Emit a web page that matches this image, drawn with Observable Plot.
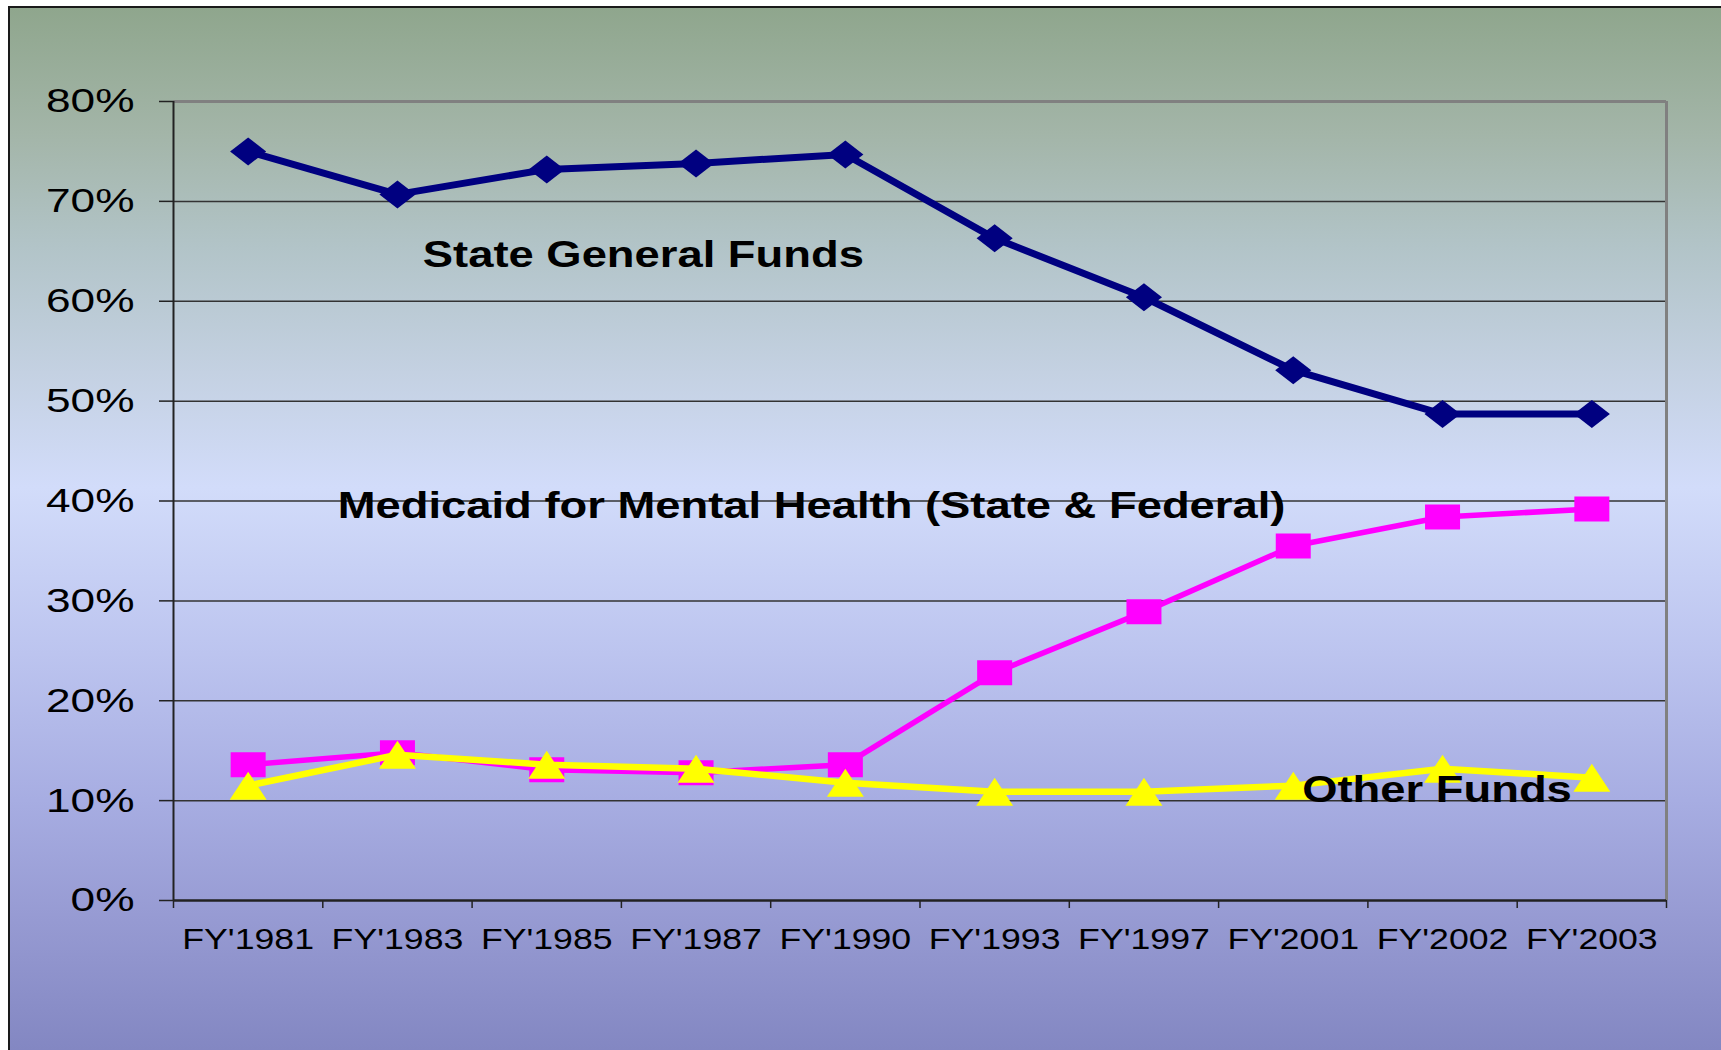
<!DOCTYPE html>
<html>
<head>
<meta charset="utf-8">
<script src="https://cdn.jsdelivr.net/npm/d3@7"></script>
<script src="https://cdn.jsdelivr.net/npm/@observablehq/plot@0.6"></script>
<style>
  html, body { margin: 0; padding: 0; background: #ffffff; width: 1721px; height: 1050px; overflow: hidden; }
  #bg {
    position: absolute; left: 8px; top: 6px; width: 1713px; height: 1044px;
    box-sizing: border-box;
    border-left: 2px solid #1a1a1a; border-top: 2px solid #1a1a1a;
    background: linear-gradient(to bottom,
      #8fa68d 0%, #a3b5a8 12%, #b2c4c8 23%, #c4d1e2 35%, #d2dcfa 46%,
      #bcc4ef 62%, #a7ade2 76%, #979bd3 87%, #8387c2 100%);
  }
  #chart { position: absolute; left: 0; top: 0; }
</style>
</head>
<body>
<div id="bg"></div>
<div id="chart"></div>
<script>
// ---- data ----
const years = ["FY'1981", "FY'1983", "FY'1985", "FY'1987", "FY'1990", "FY'1993", "FY'1997", "FY'2001", "FY'2002", "FY'2003"];
const stateGeneralFunds = [75.0, 70.7, 73.2, 73.8, 74.7, 66.3, 60.4, 53.1, 48.7, 48.7];
const medicaidMentalHealth = [13.6, 14.8, 13.1, 12.8, 13.6, 22.8, 28.9, 35.5, 38.4, 39.2];
const otherFunds = [11.5, 14.6, 13.6, 13.2, 11.8, 10.9, 10.9, 11.5, 13.2, 12.3];
const yTicks = [0, 10, 20, 30, 40, 50, 60, 70, 80];
const seriesLabels = ["State General Funds", "Medicaid for Mental Health (State & Federal)", "Other Funds"];
// label anchors (in data space: x = category index, y = percent)
const labelX = [1.67, 1.10, 7.56];
const labelY = [64.6, 39.5, 11.0];

const rows = years.map((year, i) => ({
  i, year,
  sgf: stateGeneralFunds[i],
  med: medicaidMentalHealth[i],
  oth: otherFunds[i]
}));
const annotations = seriesLabels.map((label, k) => ({label, x: labelX[k], y: labelY[k]}));

// horizontally stretched marker shapes (the reference is stretched ~1.3x wide)
const diamond = {draw(ctx, size) {
  const r = Math.sqrt(size / Math.PI), w = r * 1.29;
  ctx.moveTo(0, -r); ctx.lineTo(w, 0); ctx.lineTo(0, r); ctx.lineTo(-w, 0); ctx.closePath();
}};
const square = {draw(ctx, size) {
  const r = Math.sqrt(size / Math.PI), w = r * 1.4;
  ctx.moveTo(-w, -r); ctx.lineTo(w, -r); ctx.lineTo(w, r); ctx.lineTo(-w, r); ctx.closePath();
}};
const triangle = {draw(ctx, size) {
  const r = Math.sqrt(size / Math.PI), w = r * 1.32;
  ctx.moveTo(0, -r); ctx.lineTo(w, r); ctx.lineTo(-w, r); ctx.closePath();
}};

const cx = d => d.i + 0.5;

const svg = Plot.plot({
  width: 1721,
  height: 1050,
  marginLeft: 173,
  marginRight: 55,
  marginTop: 101,
  marginBottom: 150,
  style: {background: "transparent", fontFamily: "'Liberation Sans', Arial, sans-serif", color: "#000", overflow: "visible"},
  x: {domain: [0, years.length]},
  y: {domain: [0, 80]},
  marks: [
    Plot.gridY({ticks: yTicks.slice(1, -1), stroke: "#333", strokeOpacity: 1, strokeWidth: 1.5}),
    Plot.ruleY([80], {stroke: "#808080", strokeWidth: 3}),
    Plot.ruleX([years.length], {stroke: "#808080", strokeWidth: 3}),
    Plot.axisY({ticks: yTicks, tickSize: 14, tickPadding: 25, tickFormat: d => d + "%", fontSize: 34, stroke: "#222", strokeWidth: 1.5, label: null}),
    Plot.axisX({ticks: d3.range(years.length + 1), tickSize: 8, tickFormat: () => "", stroke: "#222", strokeWidth: 1.5, label: null}),
    Plot.axisX({ticks: years.map((_, i) => i + 0.5), tickSize: 0, tickPadding: 28, tickFormat: d => years[Math.floor(d)], fontSize: 29, label: null}),
    Plot.ruleX([0], {stroke: "#222", strokeWidth: 2}),
    Plot.ruleY([0], {stroke: "#222", strokeWidth: 2.5}),

    Plot.line(rows, {x: cx, y: "sgf", stroke: "#000080", strokeWidth: 7}),
    Plot.dot(rows, {x: cx, y: "sgf", symbol: diamond, r: 14, fill: "#000080"}),

    Plot.line(rows, {x: cx, y: "med", stroke: "#ff00ff", strokeWidth: 5.5}),
    Plot.dot(rows, {x: cx, y: "med", symbol: square, r: 12.5, fill: "#ff00ff"}),

    Plot.line(rows, {x: cx, y: "oth", stroke: "#ffff00", strokeWidth: 6.5}),
    Plot.dot(rows, {x: cx, y: "oth", symbol: triangle, r: 14, fill: "#ffff00"}),

    Plot.text(annotations, {x: "x", y: "y", text: "label", textAnchor: "start", fontSize: 36, fontWeight: "bold", fill: "#000"})
  ]
});

document.getElementById("chart").append(svg);

// widen the text like the reference rendering
svg.querySelectorAll("text").forEach(t => {
  const g = t.closest("g[aria-label]");
  const label = g ? g.getAttribute("aria-label") : "";
  let k = 1.26;
  if (label.includes("y-axis")) k = 1.30;
  else if (label.includes("x-axis")) k = 1.23;
  const w = t.getComputedTextLength();
  if (w > 0) {
    t.setAttribute("textLength", (w * k).toFixed(1));
    t.setAttribute("lengthAdjust", "spacingAndGlyphs");
  }
});
</script>
</body>
</html>
